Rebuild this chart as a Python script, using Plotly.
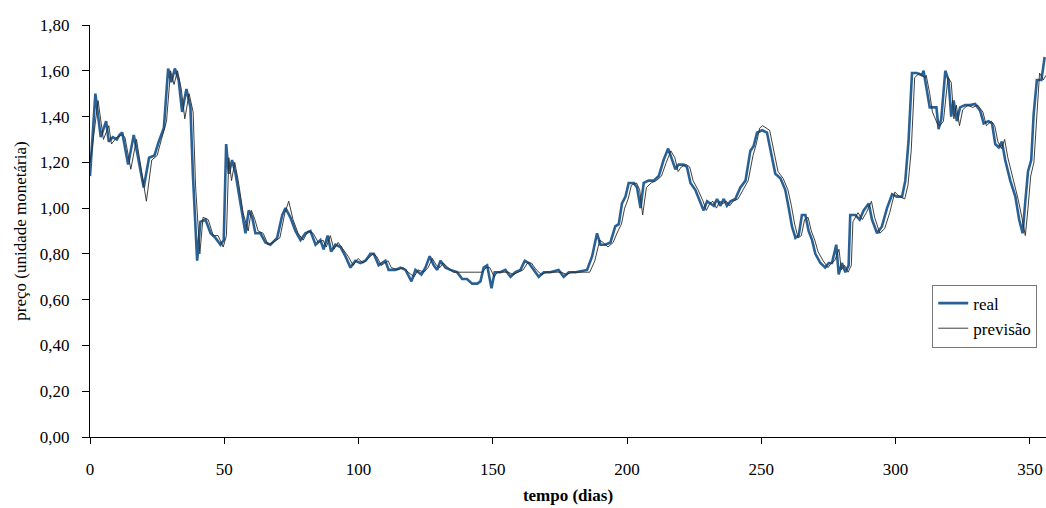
import plotly.graph_objects as go

real_dias = [0, 2, 4, 6, 7, 8.5, 10, 11, 12, 14.2, 16.3, 18, 20, 22, 24, 25.6, 27.5, 29.1, 30.3, 31.6, 33, 34.3,
             35.9, 37.4, 38.3, 39.9, 41.1, 43, 44.9, 46.7, 48.6, 49.8, 50.7, 51.7, 52.9, 54.2, 56, 57.9, 59.1, 60.4,
             61.6, 63.5, 65.3, 67.2, 69.7, 71.6, 72.8, 74.6, 76.5, 78.4, 80.2, 82.1, 84, 85.8, 87, 88.5, 89.8, 91.4,
             93.3, 95.1, 97, 98.8, 100.7, 102.6, 104.4, 105.7, 107.5, 110, 111.2, 113.7, 115.6, 117.5, 119.7, 121.2,
             123.4, 124.9, 126.5, 128, 129.3, 130.5, 132.4, 134.2, 136.7, 138.6, 140.4, 142.3, 144.2, 145.4, 146.6,
             147.9, 149.5, 150.7, 152.8, 154.7, 156.6, 158.4, 160.3, 161.9, 163.4, 165.2, 167.1, 169, 171.4, 174.5,
             176.4, 178.3, 180.8, 185.1, 187, 188.8, 190.1, 191.9, 193.8, 195.6, 196.9, 198.1, 199.4, 200.6, 202.5,
             203.7, 205, 206.2, 208, 209.9, 211.8, 213.6, 215.3, 216.8, 218, 219.2, 221.1, 222.3, 223.6, 225.4, 227.3,
             228.5, 229.8, 231, 232.3, 233.5, 234.7, 236, 237.2, 238.5, 240.3, 242.2, 244.1, 245.9, 247.1, 248.4,
             250.3, 252.1, 253.4, 255.2, 257.1, 258.9, 260.2, 261.4, 262.7, 263.9, 265.1, 266.4, 267.6, 268.9, 270.1,
             272, 273.8, 275.1, 276.3, 277.9, 278.8, 280, 281.3, 282.5, 283.1, 285, 286.6, 288.1, 290, 291.2, 293.1,
             294.9, 296.8, 298.7, 300.5, 302.4, 303.6, 304.8, 306.1, 307.9, 309.8, 310.4, 311.7, 312.7, 315.2, 316,
             317, 318.5, 319.7, 320.7, 321.6, 322.8, 324, 325.9, 327.7, 329.6, 331.5, 332.8, 334.6, 335.9, 337.1,
             338.4, 339.6, 340.8, 342.7, 344.6, 346, 347.3, 348.3, 349.3, 350.5, 351.4, 352.6, 354.3, 355.5]
real_preco = [1.14, 1.50, 1.31, 1.38, 1.29, 1.31, 1.30, 1.32, 1.33, 1.19, 1.32, 1.22, 1.09, 1.22, 1.23, 1.29, 1.35,
              1.61, 1.55, 1.61, 1.56, 1.42, 1.52, 1.44, 1.15, 0.77, 0.94, 0.95, 0.89, 0.87, 0.84, 0.86, 1.28, 1.15,
              1.21, 1.15, 1.02, 0.89, 0.99, 0.96, 0.89, 0.89, 0.85, 0.84, 0.87, 0.97, 1.00, 0.96, 0.90, 0.86, 0.89,
              0.90, 0.84, 0.86, 0.82, 0.88, 0.81, 0.84, 0.83, 0.79, 0.74, 0.77, 0.76, 0.77, 0.80, 0.80, 0.75, 0.77,
              0.73, 0.73, 0.74, 0.73, 0.68, 0.73, 0.71, 0.74, 0.79, 0.75, 0.73, 0.77, 0.74, 0.73, 0.72, 0.69, 0.69,
              0.67, 0.67, 0.68, 0.74, 0.75, 0.65, 0.72, 0.72, 0.73, 0.70, 0.72, 0.73, 0.77, 0.76, 0.73, 0.70, 0.72,
              0.72, 0.73, 0.70, 0.72, 0.72, 0.73, 0.79, 0.89, 0.84, 0.84, 0.85, 0.92, 0.93, 1.02, 1.05, 1.11, 1.11,
              1.09, 1.00, 1.11, 1.12, 1.12, 1.14, 1.21, 1.26, 1.21, 1.17, 1.19, 1.19, 1.18, 1.11, 1.08, 1.02, 0.99,
              1.03, 1.02, 1.01, 1.04, 1.01, 1.04, 1.01, 1.03, 1.04, 1.09, 1.12, 1.25, 1.27, 1.33, 1.34, 1.33, 1.25,
              1.15, 1.13, 1.08, 1.00, 0.92, 0.87, 0.88, 0.97, 0.97, 0.90, 0.86, 0.80, 0.76, 0.74, 0.76, 0.76, 0.84,
              0.71, 0.76, 0.72, 0.75, 0.97, 0.97, 0.95, 0.99, 1.02, 0.95, 0.89, 0.92, 1.00, 1.06, 1.05, 1.05, 1.12,
              1.29, 1.59, 1.59, 1.58, 1.60, 1.51, 1.44, 1.44, 1.345, 1.39, 1.60, 1.56, 1.40, 1.47, 1.38, 1.44, 1.45,
              1.45, 1.455, 1.425, 1.37, 1.38, 1.37, 1.28, 1.265, 1.29, 1.21, 1.12, 1.05, 0.95, 0.89, 1.03, 1.16, 1.21,
              1.41, 1.56, 1.56, 1.66]

prev_dias = [0, 1, 3, 5, 7, 8, 10, 12, 13, 15.2, 17.3, 19, 21, 23, 25, 26.6, 28.5, 30, 31.3, 32.6, 34, 35.3, 36.9,
             38.4, 39.3, 40.9, 42.1, 44, 45.9, 47.7, 49.6, 50.8, 51.7, 52.7, 53.9, 55.2, 57, 58.9, 60.1, 61.4, 62.6,
             64.5, 66.3, 68.2, 70.7, 72.6, 74, 75.6, 77.5, 79.4, 81.2, 83.1, 85, 86.8, 88, 89.5, 90.8, 92.4, 94.3,
             96.1, 98, 99.8, 101.7, 103.6, 105.4, 106.7, 108.5, 111, 112.2, 114.7, 116.6, 118.5, 120.7, 122.2, 124.4,
             125.9, 127.5, 129, 130.3, 131.5, 133.4, 135.2, 146, 147.6, 148.9, 150.5, 151.7, 153.8, 155.7, 157.6,
             159.4, 161.3, 162.9, 164.4, 166.2, 168.1, 170, 175.5, 177.4, 179.3, 186.1, 188, 189.8, 191.1, 192.9,
             194.8, 196.6, 197.9, 199.1, 200.4, 201.6, 203.5, 204.7, 205.8, 207.2, 209, 210.9, 212.8, 214.6, 216.3,
             217.8, 219, 220.2, 222.1, 223.3, 224.6, 226.4, 228.3, 229.5, 230.8, 232, 233.3, 234.5, 235.7, 237,
             238.2, 239.5, 241.3, 243.2, 245.1, 246.9, 248.1, 249.4, 250.5, 253.1, 254.4, 256.2, 258.1, 259.9, 261.2,
             262.4, 263.7, 264.9, 266.1, 267.4, 268.6, 269.9, 271.1, 273, 274.8, 276.1, 277.3, 278.9, 279.8, 281,
             282.3, 283.5, 284.1, 286, 287.6, 289.1, 291, 292.2, 294.1, 295.9, 297.8, 299.7, 301.5, 303.4, 304.6,
             305.8, 307.1, 308.9, 310.8, 311.4, 312.7, 313.7, 315.5, 316.5, 317.8, 319.5, 320.7, 321.7, 322.6, 323.8,
             325, 326.9, 328.7, 330.6, 332.5, 333.8, 335.6, 336.9, 338.1, 339.4, 340.6, 341.8, 343.7, 345.6, 347,
             348.3, 349.3, 350.3, 351.5, 352.4, 353.6, 355, 356]
prev_preco = [1.20, 1.28, 1.47, 1.30, 1.36, 1.28, 1.31, 1.32, 1.31, 1.17, 1.30, 1.17, 1.03, 1.21, 1.23, 1.30, 1.38,
              1.60, 1.54, 1.60, 1.52, 1.39, 1.50, 1.42, 1.10, 0.80, 0.96, 0.95, 0.88, 0.88, 0.83, 0.88, 1.22, 1.12,
              1.20, 1.12, 0.98, 0.90, 0.99, 0.95, 0.90, 0.89, 0.84, 0.85, 0.87, 0.98, 1.03, 0.95, 0.89, 0.86, 0.90,
              0.89, 0.85, 0.86, 0.83, 0.88, 0.82, 0.85, 0.82, 0.79, 0.75, 0.78, 0.76, 0.78, 0.80, 0.79, 0.75, 0.77,
              0.74, 0.73, 0.74, 0.72, 0.70, 0.73, 0.72, 0.74, 0.78, 0.75, 0.74, 0.76, 0.74, 0.72, 0.72, 0.74, 0.74,
              0.70, 0.72, 0.72, 0.72, 0.71, 0.72, 0.73, 0.76, 0.76, 0.73, 0.71, 0.72, 0.72, 0.71, 0.72, 0.72, 0.77,
              0.86, 0.85, 0.83, 0.85, 0.90, 0.93, 1.00, 1.04, 1.10, 1.11, 1.08, 0.97, 1.09, 1.11, 1.12, 1.14, 1.20,
              1.25, 1.22, 1.16, 1.18, 1.19, 1.18, 1.12, 1.08, 1.03, 0.99, 1.02, 1.03, 1.00, 1.03, 1.02, 1.03, 1.01,
              1.03, 1.04, 1.08, 1.12, 1.23, 1.28, 1.35, 1.36, 1.34, 1.26, 1.16, 1.13, 1.08, 1.01, 0.93, 0.87, 0.88,
              0.95, 0.96, 0.90, 0.86, 0.81, 0.77, 0.74, 0.76, 0.77, 0.82, 0.73, 0.75, 0.72, 0.75, 0.94, 0.98, 0.95,
              0.98, 1.03, 0.96, 0.89, 0.91, 0.98, 1.07, 1.05, 1.04, 1.10, 1.25, 1.57, 1.59, 1.57, 1.58, 1.50, 1.42,
              1.37, 1.36, 1.38, 1.57, 1.55, 1.39, 1.45, 1.36, 1.43, 1.45, 1.44, 1.45, 1.42, 1.36, 1.38, 1.36, 1.29,
              1.26, 1.30, 1.22, 1.13, 1.04, 0.96, 0.88, 1.00, 1.14, 1.20, 1.38, 1.59, 1.56, 1.58]

y_ticks = [0, 0.2, 0.4, 0.6, 0.8, 1.0, 1.2, 1.4, 1.6, 1.8]
x_ticks = [0, 50, 100, 150, 200, 250, 300, 350]

FONT = "Liberation Serif, Times New Roman, DejaVu Serif, serif"

fig = go.Figure()
fig.add_trace(go.Scatter(x=real_dias, y=real_preco, mode="lines", name="real",
                         line=dict(color="#2a6195", width=2.6)))
fig.add_trace(go.Scatter(x=prev_dias, y=prev_preco, mode="lines", name="previsão",
                         line=dict(color="#2a2a2a", width=0.9)))

fig.update_layout(
    width=1046, height=508,
    margin=dict(l=90, r=0, t=25, b=71),
    paper_bgcolor="white", plot_bgcolor="white",
    separators=",.",
    font=dict(family=FONT, size=17, color="black"),
    showlegend=True,
    legend=dict(x=0.881, y=0.37, xanchor="left", yanchor="top",
                bordercolor="#777777", borderwidth=1, bgcolor="white",
                font=dict(family=FONT, size=17), traceorder="normal",
                tracegroupgap=0, itemwidth=30),
    xaxis=dict(range=[0, 356], tickvals=x_ticks, showgrid=False, zeroline=False,
               showline=True, linecolor="black", linewidth=1,
               ticks="outside", ticklen=6, tickcolor="black",
               ticklabelstandoff=11,
               title=dict(text="<b>tempo (dias)</b>", font=dict(family=FONT, size=17), standoff=10)),
    yaxis=dict(range=[0, 1.8], tickvals=y_ticks, tickformat=".2f", showgrid=False, zeroline=False,
               showline=True, linecolor="black", linewidth=1,
               ticks="outside", ticklen=7, tickcolor="black",
               ticklabelstandoff=9,
               title=dict(text="preço (unidade monetária)", font=dict(family=FONT, size=17), standoff=8)),
)

fig.write_html("out.html")
